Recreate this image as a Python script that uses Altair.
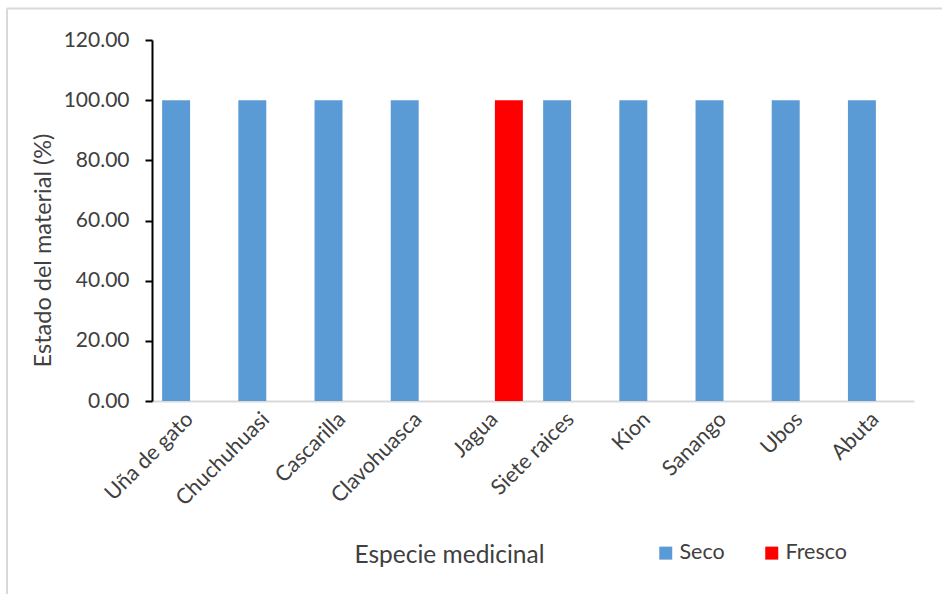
import altair as alt
import pandas as pd

# Species and share of material by state (%)
especies = ["Uña de gato", "Chuchuhuasi", "Cascarilla", "Clavohuasca", "Jagua",
            "Siete raices", "Kion", "Sanango", "Ubos", "Abuta"]
seco = [100, 100, 100, 100, 0, 100, 100, 100, 100, 100]
fresco = [0, 0, 0, 0, 100, 0, 0, 0, 0, 0]
estados = ["Seco", "Fresco"]
colores = ["#5b9bd5", "#ff0000"]
y_ticks = [0, 20, 40, 60, 80, 100, 120]

rows = []
for esp, s, f in zip(especies, seco, fresco):
    rows.append({"especie": esp, "estado": "Seco", "valor": s})
    rows.append({"especie": esp, "estado": "Fresco", "valor": f})
df = pd.DataFrame(rows)

FONT = "Lato"
TXT = "#404040"

bars = alt.Chart(df).mark_bar().encode(
    x=alt.X(
        "especie:N",
        sort=especies,
        scale=alt.Scale(paddingInner=0.266, paddingOuter=0.133),
        axis=alt.Axis(
            title="Especie medicinal",
            labelAngle=-45,
            labelAlign="right",
            labelBaseline="middle",
            labelPadding=15,
            labelFontSize=21.5,
            labelColor=TXT,
            labelFont=FONT,
            ticks=False,
            grid=False,
            domainColor="#d9d9d9",
            domainWidth=2,
            titleFont=FONT,
            titleFontSize=24.5,
            titleFontWeight="normal",
            titleColor=TXT,
            titleX=297,
            titleY=161,
            titleAlign="center",
            titleBaseline="alphabetic",
        ),
    ),
    xOffset=alt.XOffset("estado:N", sort=estados,
                        scale=alt.Scale(paddingInner=0, paddingOuter=0)),
    y=alt.Y(
        "valor:Q",
        scale=alt.Scale(domain=[0, 120]),
        axis=alt.Axis(
            title="Estado del material (%)",
            values=y_ticks,
            format=".2f",
            grid=False,
            domainColor="black",
            domainWidth=2,
            tickColor="black",
            tickWidth=2,
            tickSize=7,
            labelPadding=16,
            labelFont=FONT,
            labelFontSize=21,
            labelColor=TXT,
            titleFont=FONT,
            titleFontSize=23.5,
            titleFontWeight="normal",
            titleColor=TXT,
            titleAngle=270,
            titleX=-109,
            titleY=210,
            titleAlign="center",
            titleBaseline="middle",
        ),
    ),
    color=alt.Color(
        "estado:N",
        sort=estados,
        scale=alt.Scale(domain=estados, range=colores),
        legend=alt.Legend(
            title=None,
            orient="none",
            direction="horizontal",
            legendX=503,
            legendY=502,
            padding=0,
            symbolType="square",
            symbolSize=169,
            symbolStrokeWidth=0,
            symbolOpacity=1,
            labelFont=FONT,
            labelFontSize=21.5,
            labelColor=TXT,
            labelOffset=3,
            columnPadding=36,
        ),
    ),
)

# light frame along the top and left of the figure
one = pd.DataFrame({"k": [0]})
frame_top = alt.Chart(one).mark_rule(color="#d9d9d9", strokeWidth=2).encode(
    x=alt.value(-145), x2=alt.value(800), y=alt.value(-31.5)
)
frame_left = alt.Chart(one).mark_rule(color="#d9d9d9", strokeWidth=2).encode(
    x=alt.value(-145), y=alt.value(-31.5), y2=alt.value(600)
)

chart = alt.layer(frame_top, frame_left, bars).properties(
    width=762,
    height=361,
    background="white",
    autosize=alt.AutoSizeParams(type="none"),
    padding={"left": 152, "top": 40, "right": 28, "bottom": 193},
).configure_view(stroke=None)

chart.save("out.html", embed_options={"renderer": "svg", "actions": False})
